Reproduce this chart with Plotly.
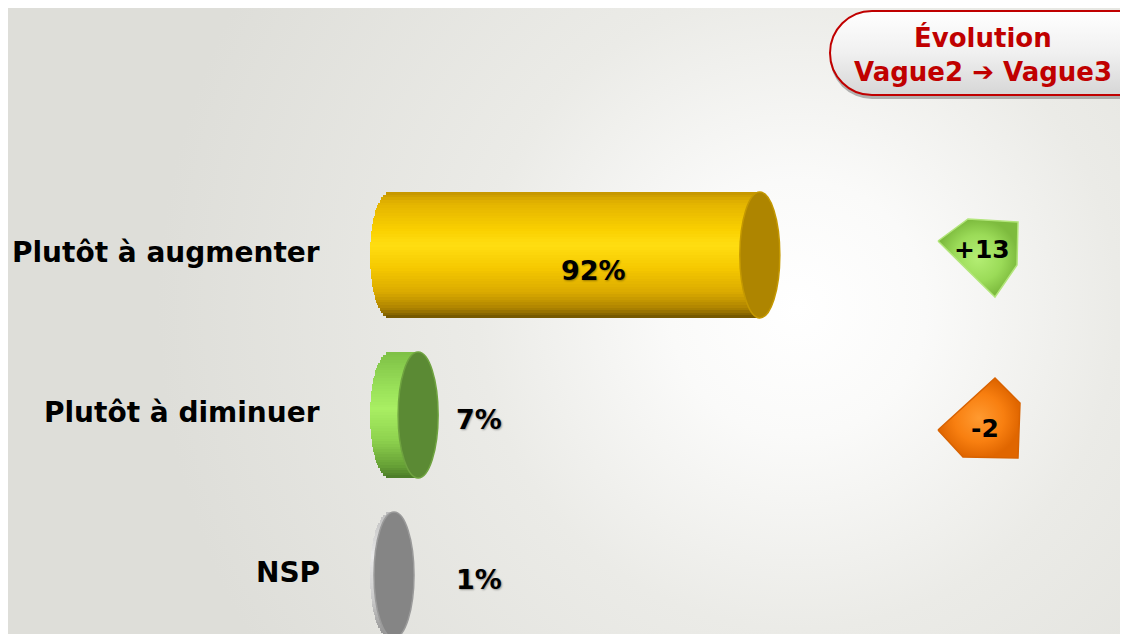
import base64
import numpy as np
import plotly.graph_objects as go
from plotly.colors import sample_colorscale

# ---------------- data ----------------
categories = ["Plutôt à augmenter", "Plutôt à diminuer", "NSP"]
values = [92, 7, 1]
value_labels = ["92%", "7%", "1%"]
evolution_values = [13, -2]
evolution_labels = ["+13", "-2"]
header_lines = ["Évolution", "Vague2 ➔ Vague3"]

# ---------------- styles ----------------
body_scales = [
    [[0, "#C39400"], [0.08, "#E2B200"], [0.3, "#FAD000"], [0.42, "#FFDE12"],
     [0.6, "#F6C900"], [0.8, "#D9A900"], [0.92, "#AE8300"], [1, "#6E5300"]],
    [[0, "#7EC046"], [0.3, "#9BE25A"], [0.45, "#A9EF63"], [0.7, "#8ED24E"],
     [0.9, "#67A136"], [1, "#4A7A27"]],
    [[0, "#BDBDBD"], [0.35, "#E9E9E9"], [0.7, "#C9C9C9"], [1, "#8E8E8E"]],
]
cap_colors = ["#AE8500", "#5B8A34", "#858585"]
cap_edges = ["#C49800", "#6FA340", "#9A9A9A"]
badge_scales = [
    [[0, "#B4EE74"], [0.6, "#9BDB58"], [1, "#7DBB3E"]],
    [[0, "#FF9A30"], [0.6, "#F87F10"], [1, "#E06600"]],
]
badge_line = ["#B2E57A", "#D86200"]
# pentagon outlines as pixel offsets from each badge centre (x right, y down)
badge_shapes = [
    [(-42, -14), (-12, -36), (38, -33), (37, 10), (15, 42)],
    [(-42, 15), (15, -37), (40, -12), (38, 43), (-17, 42)],
]

FONT = "DejaVu Sans"
PAGE_OFF = 8                      # browser body margin
W, H = 1128 - PAGE_OFF, 634 - PAGE_OFF
zero_px, px_per_unit = 390 - PAGE_OFF, 4.02
first_row_px, row_px = 255 - PAGE_OFF, 160
half_h = 63 / row_px
cap_rx = 20 / px_per_unit
N_STRIPS = 48

y_pos = list(range(len(categories)))
x_range = [-zero_px / px_per_unit, (W - zero_px) / px_per_unit]
y_range = [(H - first_row_px) / row_px, -first_row_px / row_px]

fig = go.Figure()

# cylinder bodies drawn as thin horizontal strips (vertical shading)
for j in range(N_STRIPS):
    t0 = j / N_STRIPS
    tc = (j + 0.5) / N_STRIPS
    u = 2 * tc - 1
    e = cap_rx * np.sqrt(max(0.0, 1 - u * u))
    colors = [sample_colorscale(body_scales[i], [tc])[0] for i in range(len(values))]
    fig.add_trace(go.Bar(
        orientation="h",
        y=y_pos,
        x=[v + e for v in values],
        base=[-e] * len(values),
        offset=-half_h + t0 * 2 * half_h,
        width=2 * half_h / N_STRIPS * 1.15,
        marker=dict(color=colors, line=dict(width=0)),
        hoverinfo="skip",
        showlegend=False,
    ))

# end caps
for i, v in enumerate(values):
    fig.add_shape(type="circle", xref="x", yref="y",
                  x0=v - cap_rx, x1=v + cap_rx,
                  y0=i - half_h, y1=i + half_h,
                  fillcolor=cap_colors[i], line=dict(color=cap_edges[i], width=1.5))

# value labels
shadow = "1px 1px 2px rgba(0,0,0,0.35)"
for i, (v, lab) in enumerate(zip(values, value_labels)):
    if v > 20:
        fig.add_annotation(x=v * 0.55, y=i, text=lab, showarrow=False, yshift=-15,
                           xanchor="center",
                           font=dict(family=FONT, size=27, color="#000", weight="bold", shadow=shadow))
    else:
        fig.add_annotation(x=16, y=i, text=lab, showarrow=False, yshift=-4,
                           xanchor="left",
                           font=dict(family=FONT, size=27, color="#000", weight="bold", shadow=shadow))

# category labels
for i, c in enumerate(categories):
    fig.add_annotation(xref="paper", x=(322 - PAGE_OFF) / W, y=i, text=c, showarrow=False,
                       xanchor="right", yshift=3,
                       font=dict(family=FONT, size=28, color="#000", weight="bold"))

# evolution badges
badge_x = (980 - PAGE_OFF - zero_px) / px_per_unit
for i, lab in enumerate(evolution_labels):
    pts = badge_shapes[i] + [badge_shapes[i][0]]
    bx = [badge_x + dx / px_per_unit for dx, dy in pts]
    by = [y_pos[i] + dy / row_px for dx, dy in pts]
    fig.add_trace(go.Scatter(
        x=bx, y=by, mode="lines", fill="toself",
        fillgradient=dict(type="radial", colorscale=badge_scales[i]),
        line=dict(color=badge_line[i], width=1.5),
        hoverinfo="skip", showlegend=False,
    ))
badge_text_shift = [6, -13]
badge_text_dx = [2, 5]
for i, lab in enumerate(evolution_labels):
    fig.add_annotation(x=badge_x + badge_text_dx[i] / px_per_unit, y=i, text=lab,
                       showarrow=False, yshift=badge_text_shift[i],
                       font=dict(family=FONT, size=25, color="#000", weight="bold"))

# background and header pill (decorative SVG)
bg_svg = f'''<svg xmlns="http://www.w3.org/2000/svg" width="{W}" height="{H}" viewBox="0 0 {W} {H}" preserveAspectRatio="none">
<defs><radialGradient id="g" gradientUnits="userSpaceOnUse" cx="790" cy="300" r="640">
<stop offset="0" stop-color="#FFFFFF"/><stop offset="0.2" stop-color="#FAFAF9"/>
<stop offset="0.5" stop-color="#EBEBE7"/><stop offset="1" stop-color="#DEDED9"/></radialGradient></defs>
<rect x="0" y="0" width="{W}" height="{H}" fill="url(#g)"/></svg>'''

pill_left = 828 - PAGE_OFF
pill_w, pill_h = W - pill_left, 92
pill_svg = f'''<svg xmlns="http://www.w3.org/2000/svg" width="{pill_w}" height="{pill_h}" viewBox="0 0 {pill_w} {pill_h}" preserveAspectRatio="none">
<defs><linearGradient id="p" x1="0" y1="0" x2="0" y2="1">
<stop offset="0" stop-color="#FFFFFF"/><stop offset="0.5" stop-color="#F0F0F0"/><stop offset="1" stop-color="#D6D6D6"/></linearGradient></defs>
<rect x="2" y="6" width="{pill_w + 60}" height="84" rx="42" ry="42" fill="#7A7A7A" opacity="0.55"/>
<rect x="2" y="2" width="{pill_w + 60}" height="84" rx="42" ry="42" fill="url(#p)" stroke="#C00000" stroke-width="2"/>
</svg>'''


def uri(svg):
    return "data:image/svg+xml;base64," + base64.b64encode(svg.encode("utf-8")).decode("ascii")


fig.add_layout_image(source=uri(bg_svg), xref="paper", yref="paper", x=0, y=1,
                     sizex=1, sizey=1, xanchor="left", yanchor="top",
                     sizing="stretch", layer="below")
fig.add_layout_image(source=uri(pill_svg), xref="paper", yref="paper", x=pill_left / W,
                     y=1 - (9 - PAGE_OFF) / H,
                     sizex=pill_w / W, sizey=pill_h / H, xanchor="left", yanchor="top",
                     sizing="stretch", layer="below")

header_y_px = [38 - PAGE_OFF, 72 - PAGE_OFF]
for txt, ypx in zip(header_lines, header_y_px):
    fig.add_annotation(xref="paper", yref="paper", x=(983 - PAGE_OFF) / W, y=1 - ypx / H, text=txt,
                       showarrow=False, xanchor="center", yanchor="middle",
                       font=dict(family=FONT, size=26, color="#C00000", weight="bold"))

fig.update_layout(
    width=W, height=H, margin=dict(l=0, r=0, t=0, b=0),
    barmode="overlay", bargap=0,
    paper_bgcolor="#DEDED9", plot_bgcolor="rgba(0,0,0,0)",
    xaxis=dict(range=x_range, visible=False, fixedrange=True),
    yaxis=dict(range=y_range, visible=False, fixedrange=True),
    showlegend=False,
)

fig.write_html("out.html")
